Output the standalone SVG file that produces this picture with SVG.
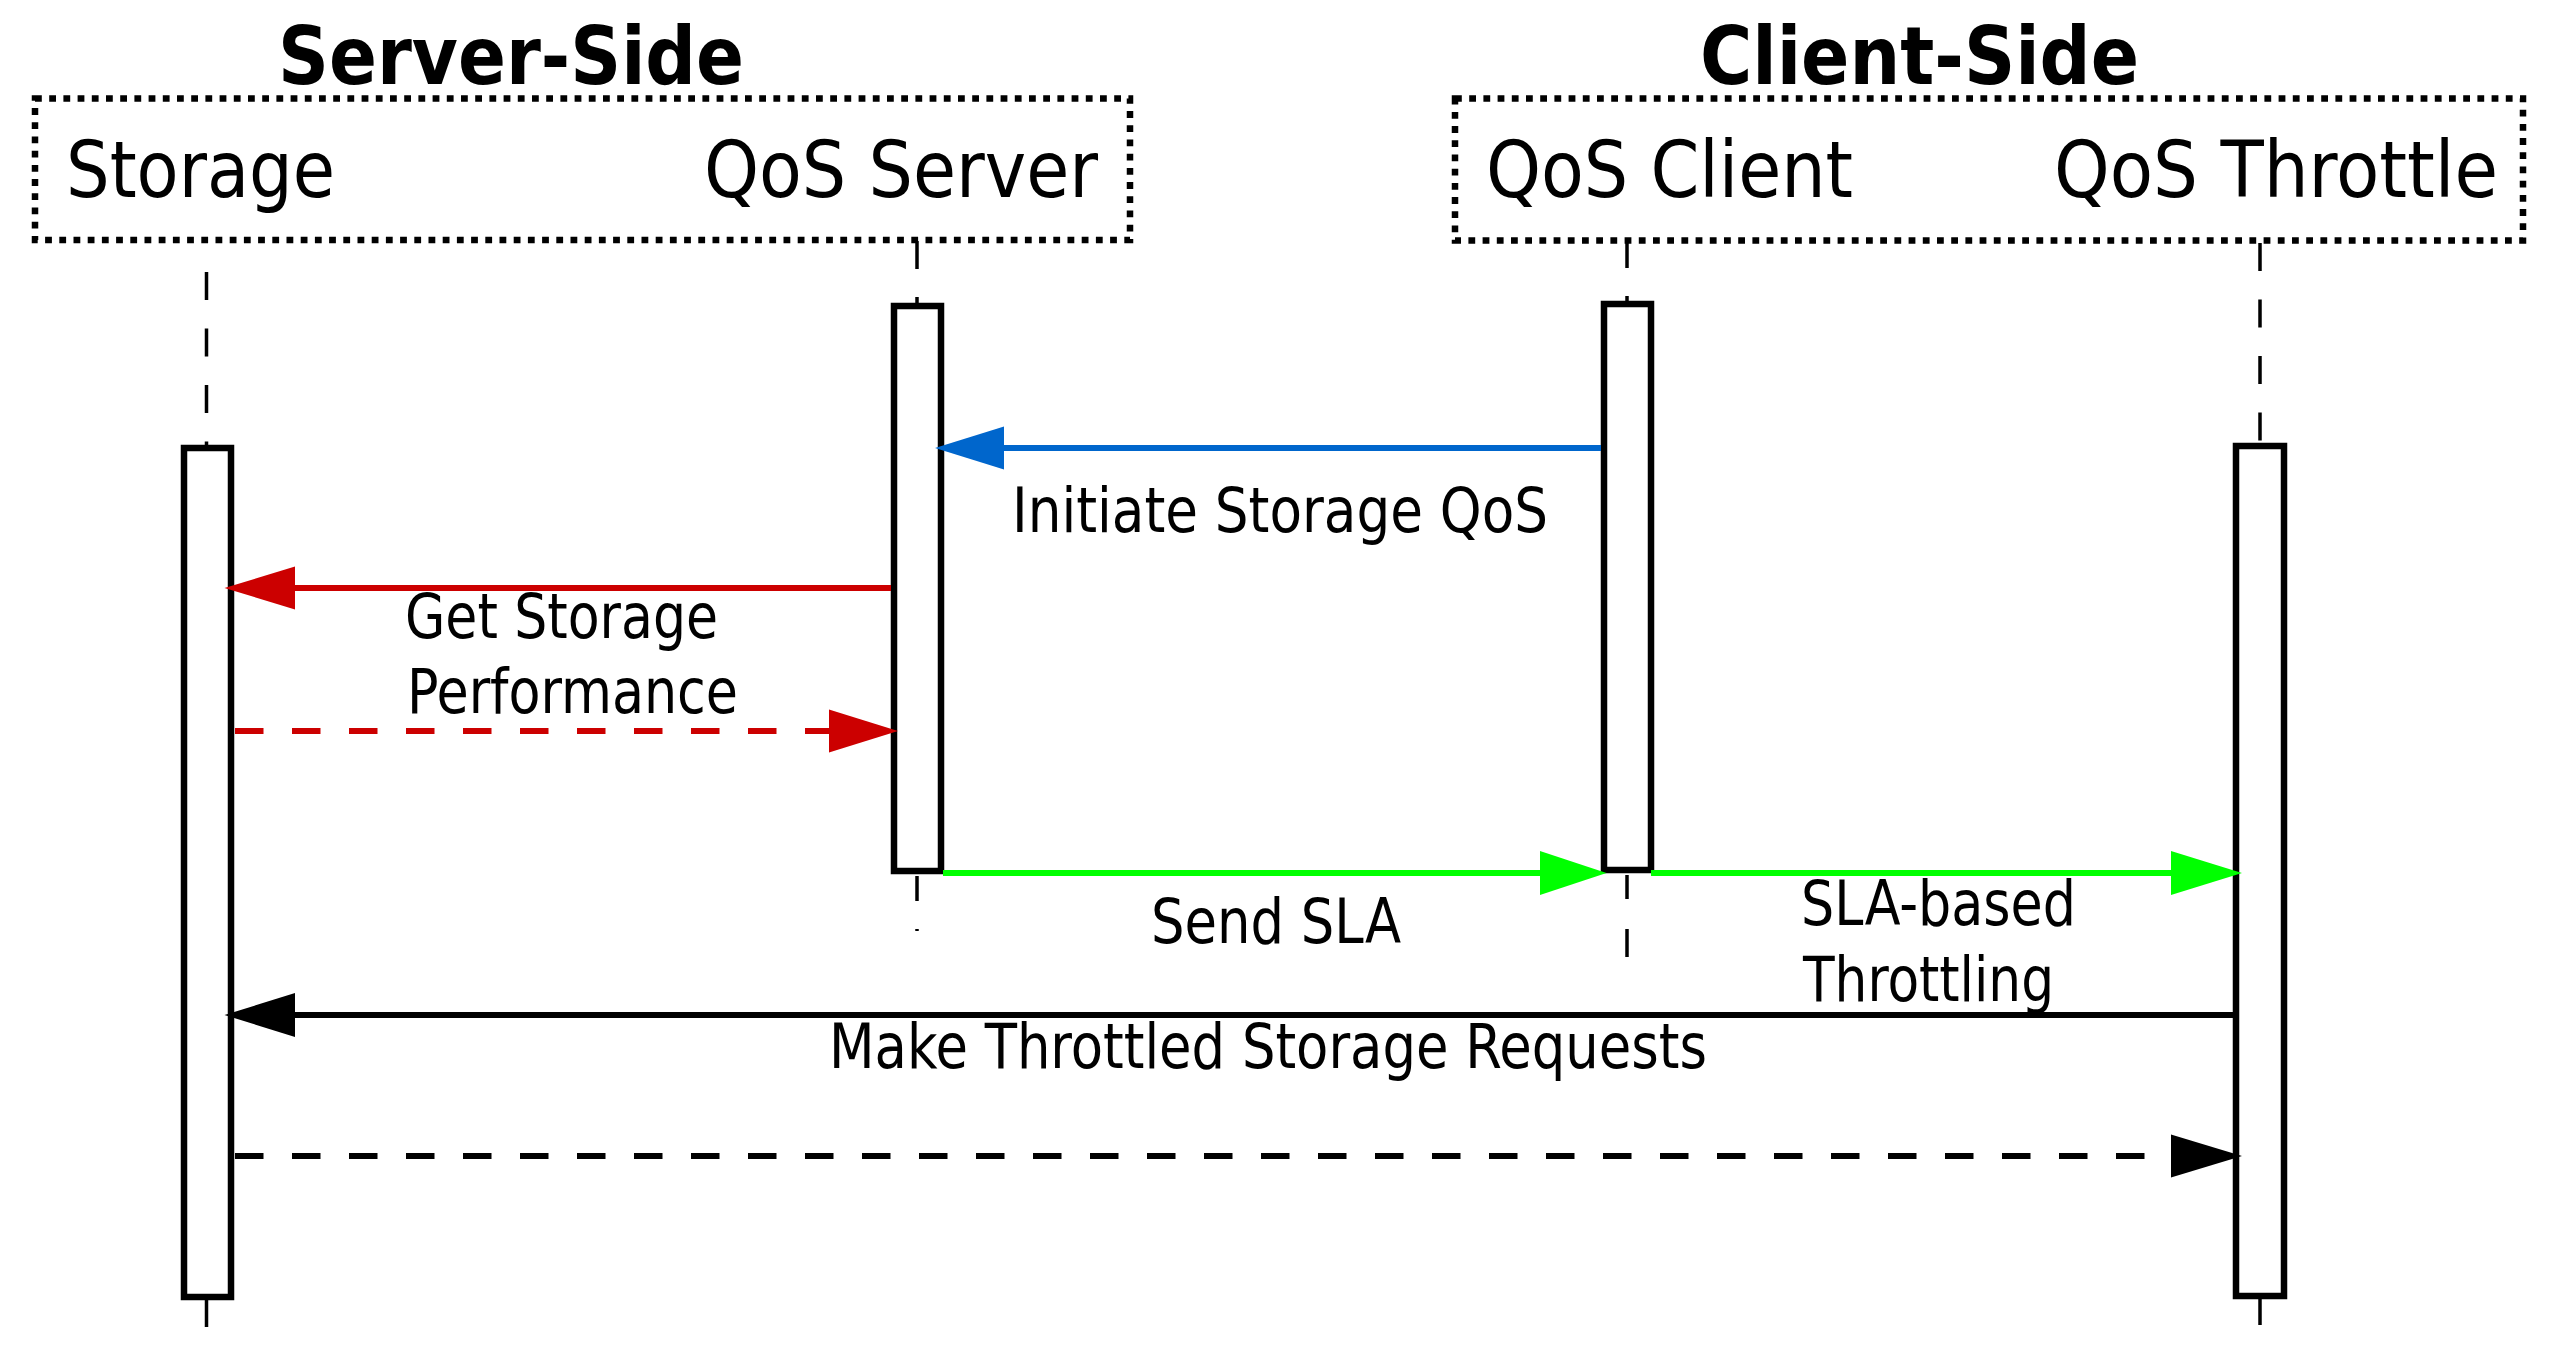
<svg xmlns="http://www.w3.org/2000/svg" width="2560" height="1351" viewBox="0 0 2560 1351">
<style>
  .grp{fill:none;stroke:#000;stroke-width:6.5;stroke-dasharray:6.8 7.4}
  .title{font-family:"DejaVu Sans Condensed","DejaVu Sans",sans-serif;font-weight:bold;font-size:80px;fill:#000}
  .lbl{font-family:"DejaVu Sans Condensed","DejaVu Sans",sans-serif;font-size:78px;fill:#000}
  .msg{font-family:"DejaVu Sans Condensed","DejaVu Sans",sans-serif;font-size:62px;fill:#000}
  .life{stroke:#000;stroke-width:3.5;fill:none}
  .dash{stroke-dasharray:28 28.5}
  .act{fill:#fff;stroke:#000;stroke-width:6.5}
  .conn{fill:none;stroke-width:6}
  .dsh{stroke-dasharray:28.5 28.5}
</style>
<rect width="2560" height="1351" fill="#fff"/>

<g id="server-side">
  <rect class="grp" x="35" y="98.5" width="1095" height="141.5"/>
  <text class="title" x="278" y="84" textLength="466" lengthAdjust="spacingAndGlyphs">Server-Side</text>
</g>
<g id="client-side">
  <rect class="grp" x="1455" y="98.5" width="1068" height="142"/>
  <text class="title" x="1700" y="84" textLength="439" lengthAdjust="spacingAndGlyphs">Client-Side</text>
</g>

<g id="storage">
  <text class="lbl" x="66" y="197" textLength="269" lengthAdjust="spacingAndGlyphs">Storage</text>
  <line class="life dash" x1="206.5" y1="272" x2="206.5" y2="446"/>
  <line class="life" x1="206.5" y1="1300" x2="206.5" y2="1327"/>
  <rect class="act" x="184" y="448" width="47" height="849"/>
</g>
<g id="qos-server">
  <text class="lbl" x="704" y="197" textLength="394" lengthAdjust="spacingAndGlyphs">QoS Server</text>
  <line class="life" x1="917" y1="241" x2="917" y2="269"/>
  <line class="life" x1="917" y1="297" x2="917" y2="304"/>
  <line class="life" x1="917" y1="876" x2="917" y2="901"/>
  <line class="life" x1="917" y1="929" x2="917" y2="931"/>
  <rect class="act" x="894" y="306" width="47" height="565"/>
</g>
<g id="qos-client">
  <text class="lbl" x="1486" y="197" textLength="367" lengthAdjust="spacingAndGlyphs">QoS Client</text>
  <line class="life" x1="1627" y1="242" x2="1627" y2="268"/>
  <line class="life" x1="1627" y1="296" x2="1627" y2="302"/>
  <line class="life" x1="1627" y1="875" x2="1627" y2="899"/>
  <line class="life" x1="1627" y1="929" x2="1627" y2="957"/>
  <rect class="act" x="1604" y="304" width="47" height="566"/>
</g>
<g id="qos-throttle">
  <text class="lbl" x="2054" y="197" textLength="444" lengthAdjust="spacingAndGlyphs">QoS Throttle</text>
  <line class="life dash" x1="2260" y1="243" x2="2260" y2="444"/>
  <line class="life" x1="2260" y1="1299" x2="2260" y2="1325"/>
  <rect class="act" x="2236" y="446" width="48" height="850"/>
</g>

<g id="connectors">
  <line class="conn" stroke="#0066cc" x1="1601" y1="448" x2="1000" y2="448"/>
  <polygon fill="#0066cc" points="935,448 1004,426.5 1004,469.5"/>
  <text class="msg" x="1012" y="532" textLength="536" lengthAdjust="spacingAndGlyphs">Initiate Storage QoS</text>

  <line class="conn" stroke="#cc0000" x1="891" y1="588" x2="290" y2="588"/>
  <polygon fill="#cc0000" points="224.5,588 295,566.5 295,609.5"/>
  <text class="msg" x="405" y="638" textLength="313" lengthAdjust="spacingAndGlyphs">Get Storage</text>
  <text class="msg" x="407" y="713" textLength="331" lengthAdjust="spacingAndGlyphs">Performance</text>

  <line class="conn dsh" stroke="#cc0000" x1="235" y1="731" x2="830" y2="731"/>
  <polygon fill="#cc0000" points="898,731 829,709.5 829,752.5"/>

  <line class="conn" stroke="#00ff00" x1="943" y1="873" x2="1545" y2="873"/>
  <polygon fill="#00ff00" points="1606.5,873 1540,851 1540,895"/>
  <text class="msg" x="1151" y="943" textLength="250" lengthAdjust="spacingAndGlyphs">Send SLA</text>

  <line class="conn" stroke="#00ff00" x1="1651" y1="873" x2="2176" y2="873"/>
  <polygon fill="#00ff00" points="2242,873 2171,851 2171,895"/>
  <text class="msg" x="1801" y="925" textLength="275" lengthAdjust="spacingAndGlyphs">SLA-based</text>
  <text class="msg" x="1803" y="1001" textLength="251" lengthAdjust="spacingAndGlyphs">Throttling</text>

  <line class="conn" stroke="#000" x1="2233" y1="1015" x2="290" y2="1015"/>
  <polygon fill="#000" points="224.5,1015 295,993 295,1037"/>
  <text class="msg" x="829" y="1068" textLength="878" lengthAdjust="spacingAndGlyphs">Make Throttled Storage Requests</text>

  <line class="conn dsh" stroke="#000" x1="235" y1="1156" x2="2175" y2="1156"/>
  <polygon fill="#000" points="2242,1156 2171,1134.5 2171,1177.5"/>
</g>
</svg>
